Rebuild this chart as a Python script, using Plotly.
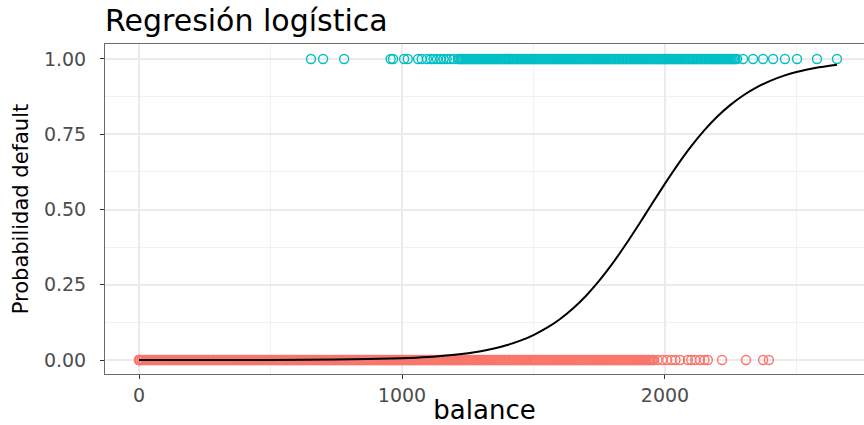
import plotly.graph_objects as go

# ---- data ----
no_default_balance = [
    0, 0, 0, 4, 9, 13, 18, 24, 28, 33, 39, 43, 48, 54, 58, 63, 69, 73, 78, 84,
    88, 93, 99, 103, 108, 114, 118, 123, 129, 133, 138, 144, 148, 153, 159, 163, 168, 174, 178, 183,
    189, 193, 198, 204, 208, 213, 219, 223, 228, 234, 238, 243, 249, 253, 258, 264, 268, 273, 279, 283,
    288, 294, 298, 303, 309, 313, 318, 324, 328, 333, 339, 343, 348, 354, 358, 363, 369, 373, 378, 384,
    388, 393, 399, 403, 408, 414, 418, 423, 429, 433, 438, 444, 448, 453, 459, 463, 468, 474, 478, 483,
    489, 493, 498, 504, 508, 513, 519, 523, 528, 534, 538, 543, 549, 553, 558, 564, 568, 573, 579, 583,
    588, 594, 598, 603, 609, 613, 618, 624, 628, 633, 639, 643, 648, 654, 658, 663, 669, 673, 678, 684,
    688, 693, 699, 703, 708, 714, 718, 723, 729, 733, 738, 744, 748, 753, 759, 763, 768, 774, 778, 783,
    789, 793, 798, 804, 808, 813, 819, 823, 828, 834, 838, 843, 849, 853, 858, 864, 868, 873, 879, 883,
    888, 894, 898, 903, 909, 913, 918, 924, 928, 933, 939, 943, 948, 954, 958, 963, 969, 973, 978, 984,
    988, 993, 999, 1003, 1008, 1014, 1018, 1023, 1029, 1033, 1038, 1044, 1048, 1053, 1059, 1063, 1068, 1074, 1078, 1083,
    1089, 1093, 1098, 1104, 1108, 1113, 1119, 1123, 1128, 1134, 1138, 1143, 1149, 1153, 1158, 1164, 1168, 1173, 1179, 1183,
    1189, 1193, 1198, 1204, 1208, 1213, 1219, 1223, 1228, 1234, 1238, 1243, 1249, 1253, 1258, 1264, 1268, 1273, 1279, 1283,
    1289, 1293, 1298, 1304, 1308, 1313, 1319, 1323, 1328, 1334, 1338, 1343, 1349, 1353, 1358, 1364, 1368, 1373, 1379, 1383,
    1389, 1393, 1398, 1404, 1408, 1413, 1419, 1423, 1428, 1434, 1438, 1443, 1449, 1453, 1458, 1464, 1468, 1473, 1479, 1483,
    1489, 1493, 1498, 1504, 1508, 1513, 1519, 1523, 1528, 1534, 1538, 1543, 1549, 1553, 1558, 1564, 1568, 1573, 1579, 1583,
    1589, 1593, 1598, 1604, 1608, 1613, 1619, 1623, 1628, 1634, 1638, 1643, 1649, 1653, 1658, 1664, 1668, 1673, 1679, 1683,
    1689, 1693, 1698, 1704, 1708, 1713, 1719, 1723, 1728, 1734, 1738, 1743, 1749, 1753, 1758, 1764, 1768, 1773, 1779, 1783,
    1789, 1793, 1798, 1804, 1808, 1813, 1819, 1823, 1828, 1834, 1838, 1843, 1849, 1853, 1858, 1864, 1868, 1873, 1879, 1883,
    1889, 1893, 1898, 1904, 1908, 1913, 1919, 1923, 1928, 1934, 1938, 1943, 1949, 1953, 1958,
    1972, 1990, 2008, 2025, 2040, 2057, 2087, 2100, 2115, 2133, 2150, 2163, 2217, 2308, 2373, 2395]
no_default_value = [0] * len(no_default_balance)

default_balance = [
    654, 700, 780, 957, 966, 1008, 1022, 1061, 1075, 1095, 1110, 1120, 1133, 1146, 1158, 1170, 1182, 1196,
    1213, 1218, 1223, 1229, 1233, 1238, 1244, 1248, 1253, 1259, 1263, 1268, 1274, 1278, 1283, 1289, 1293, 1298, 1304, 1308,
    1313, 1319, 1323, 1328, 1334, 1338, 1343, 1349, 1353, 1358, 1364, 1368, 1373, 1379, 1383,
    1389, 1393, 1398, 1404, 1408, 1413, 1419, 1423, 1428, 1434, 1438, 1443, 1449, 1453, 1458, 1464, 1468, 1473, 1479, 1483,
    1489, 1493, 1498, 1504, 1508, 1513, 1519, 1523, 1528, 1534, 1538, 1543, 1549, 1553, 1558, 1564, 1568, 1573, 1579, 1583,
    1589, 1593, 1598, 1604, 1608, 1613, 1619, 1623, 1628, 1634, 1638, 1643, 1649, 1653, 1658, 1664, 1668, 1673, 1679, 1683,
    1689, 1693, 1698, 1704, 1708, 1713, 1719, 1723, 1728, 1734, 1738, 1743, 1749, 1753, 1758, 1764, 1768, 1773, 1779, 1783,
    1789, 1793, 1798, 1804, 1808, 1813, 1819, 1823, 1828, 1834, 1838, 1843, 1849, 1853, 1858, 1864, 1868, 1873, 1879, 1883,
    1889, 1893, 1898, 1904, 1908, 1913, 1919, 1923, 1928, 1934, 1938, 1943, 1949, 1953, 1958, 1964, 1968, 1973, 1979, 1983,
    1989, 1993, 1998, 2004, 2008, 2013, 2019, 2023, 2028, 2034, 2038, 2043, 2049, 2053, 2058, 2064, 2068, 2073, 2079, 2083,
    2089, 2093, 2098, 2104, 2108, 2113, 2119, 2123, 2128, 2134, 2138, 2143, 2149, 2153, 2158, 2164, 2168, 2173, 2179, 2183,
    2189, 2193, 2198, 2204, 2208, 2213, 2219, 2223, 2228, 2234, 2238, 2243, 2249, 2253, 2258, 2264, 2268, 2274,
    2297, 2335, 2373, 2411, 2456, 2502, 2578, 2654]
default_value = [1] * len(default_balance)

curve_balance = [0, 250, 500, 750, 1000, 1100, 1200, 1300, 1350, 1400, 1450, 1500, 1550, 1600,
                 1650, 1700, 1750, 1800, 1850, 1900, 1950, 2000, 2050, 2100, 2150, 2200, 2250,
                 2300, 2350, 2400, 2450, 2500, 2575, 2654]
curve_prob = [0.00002, 0.00009, 0.00037, 0.00146, 0.0058, 0.0099, 0.0171, 0.0292, 0.0382, 0.0496,
              0.0643, 0.0829, 0.1064, 0.1355, 0.1711, 0.2136, 0.2635, 0.3201, 0.3827, 0.4494,
              0.518, 0.5859, 0.6507, 0.7103, 0.7635, 0.8096, 0.8484, 0.8805, 0.9065, 0.9274,
              0.9439, 0.9568, 0.971, 0.981]

x_ticks = [0, 1000, 2000]
y_ticks = [0.0, 0.25, 0.5, 0.75, 1.0]
y_tick_labels = ["0.00", "0.25", "0.50", "0.75", "1.00"]

FONT = "DejaVu Sans"

fig = go.Figure()
fig.add_trace(go.Scatter(
    x=no_default_balance, y=no_default_value, mode="markers",
    marker=dict(symbol="circle-open", size=9, color="#F8766D", line=dict(width=1.4, color="#F8766D")),
    showlegend=False, hoverinfo="skip"))
fig.add_trace(go.Scatter(
    x=default_balance, y=default_value, mode="markers",
    marker=dict(symbol="circle-open", size=9, color="#00BFC4", line=dict(width=1.4, color="#00BFC4")),
    showlegend=False, hoverinfo="skip"))
fig.add_trace(go.Scatter(
    x=curve_balance, y=curve_prob, mode="lines",
    line=dict(color="black", width=2, shape="spline", smoothing=0.6),
    showlegend=False, hoverinfo="skip"))

fig.update_layout(
    width=864, height=425,
    margin=dict(l=105, r=0, t=44, b=51),
    paper_bgcolor="white", plot_bgcolor="white",
    font=dict(family=FONT, color="#4D4D4D"),
    title=dict(text="Regresión logística", font=dict(family=FONT, size=30, color="black"),
               xref="container", x=105 / 864, xanchor="left",
               yref="container", y=1 - 20 / 425, yanchor="middle"),
    xaxis=dict(
        range=[-129.3, 2756.7], tickvals=x_ticks, ticktext=[str(v) for v in x_ticks],
        showgrid=True, gridcolor="#EBEBEB", gridwidth=1.6,
        minor=dict(tickvals=[500, 1500, 2500], showgrid=True, gridcolor="#F1F1F1", gridwidth=1, ticklen=0),
        zeroline=False, showline=True, linecolor="#6A6A6A", linewidth=1, mirror=True,
        ticks="outside", ticklen=4, tickcolor="#333333", tickwidth=1,
        tickfont=dict(family=FONT, size=19, color="#4D4D4D"),
        title=dict(text="balance", font=dict(family=FONT, size=26, color="black"), standoff=2),
    ),
    yaxis=dict(
        range=[-0.0465, 1.0498], tickvals=y_ticks, ticktext=y_tick_labels,
        showgrid=True, gridcolor="#EBEBEB", gridwidth=1.6,
        minor=dict(tickvals=[0.125, 0.375, 0.625, 0.875], showgrid=True, gridcolor="#F1F1F1", gridwidth=1, ticklen=0),
        zeroline=False, showline=True, linecolor="#6A6A6A", linewidth=1, mirror=False,
        ticks="outside", ticklen=4, tickcolor="#333333", tickwidth=1, ticklabelstandoff=10,
        tickfont=dict(family=FONT, size=19, color="#4D4D4D"),
        title=dict(text="Probabilidad default", font=dict(family=FONT, size=21, color="black"), standoff=9),
    ),
)

fig.write_html("out.html")
